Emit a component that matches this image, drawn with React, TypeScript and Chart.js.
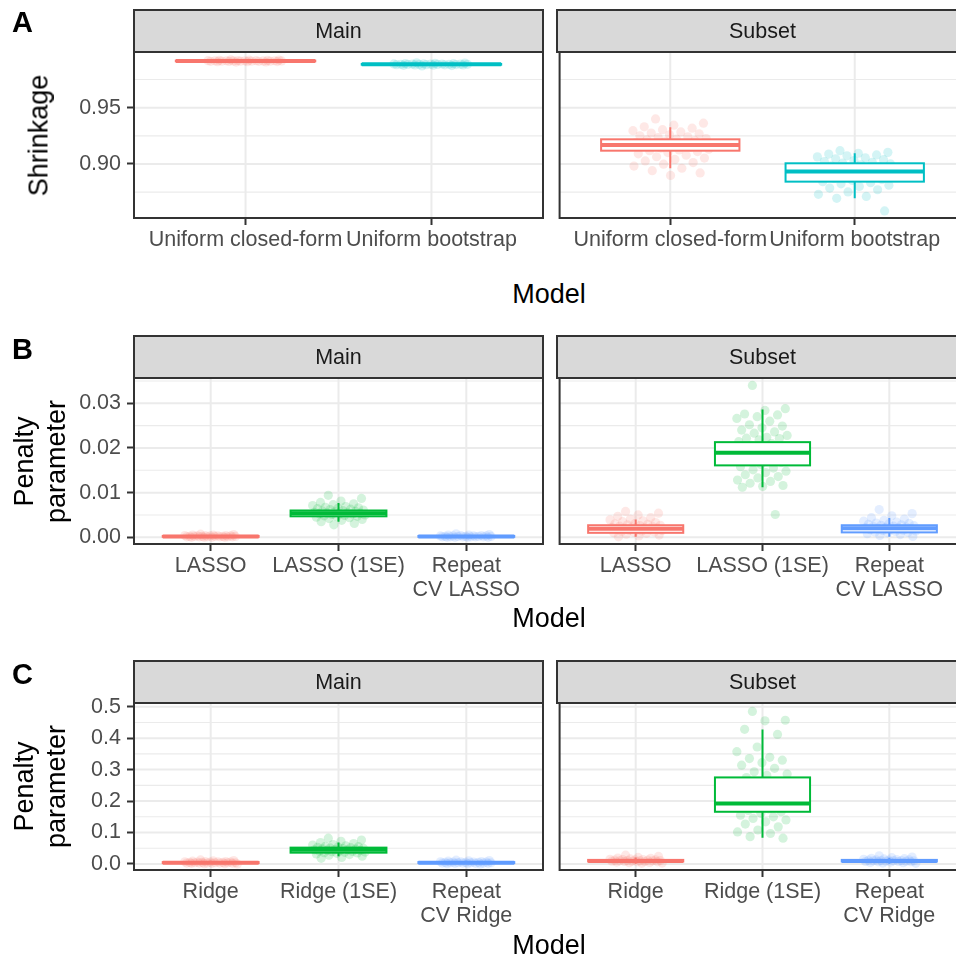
import React, { useEffect, useRef } from 'react';
import { Chart, registerables } from 'chart.js';
Chart.register(...registerables);

const FONT = "'Liberation Sans', Arial, Helvetica, sans-serif";

// ---------- categories ----------
const CATS_A: (string | string[])[] = ['Uniform closed-form', 'Uniform bootstrap'];
const CATS_B: (string | string[])[] = ['LASSO', 'LASSO (1SE)', ['Repeat', 'CV LASSO']];
const CATS_C: (string | string[])[] = ['Ridge', 'Ridge (1SE)', ['Repeat', 'CV Ridge']];
const COLORS_2 = ['#F8766D', '#00BFC4'];
const COLORS_3 = ['#F8766D', '#00BA38', '#619CFF'];

// ---------- y ticks ----------
const TICKS_A = [0.9, 0.95];
const TICKS_B = [0, 0.01, 0.02, 0.03];
const TICKS_C = [0, 0.1, 0.2, 0.3, 0.4, 0.5];

// ---------- A: Shrinkage ----------
const A_MAIN_CF = [0.9925, 0.9923, 0.9922, 0.9921, 0.992, 0.9919, 0.9918, 0.9918, 0.9917, 0.9917, 0.9916, 0.9916, 0.9915, 0.9915, 0.9915, 0.9914, 0.9914, 0.9913, 0.9913, 0.9912, 0.9912, 0.9911, 0.991, 0.9909, 0.9908, 0.9906, 0.9905];
const A_MAIN_BS = [0.9899, 0.9896, 0.9894, 0.9892, 0.9891, 0.989, 0.9889, 0.9888, 0.9888, 0.9887, 0.9887, 0.9886, 0.9886, 0.9885, 0.9885, 0.9884, 0.9884, 0.9883, 0.9882, 0.9882, 0.9881, 0.988, 0.9879, 0.9878, 0.9876, 0.9874, 0.9871];
const A_SUB_CF = [0.94, 0.9362, 0.9345, 0.933, 0.9318, 0.9305, 0.9296, 0.9285, 0.9275, 0.9268, 0.9259, 0.925, 0.9242, 0.9235, 0.9226, 0.922, 0.9214, 0.9207, 0.9199, 0.919, 0.9183, 0.9176, 0.917, 0.9163, 0.9155, 0.9148, 0.914, 0.9131, 0.9124, 0.9118, 0.911, 0.9101, 0.909, 0.9078, 0.9064, 0.9052, 0.904, 0.9027, 0.9012, 0.8998, 0.8981, 0.8962, 0.894, 0.892, 0.8898];
const A_SUB_BS = [0.9118, 0.9103, 0.9095, 0.9088, 0.908, 0.9072, 0.9063, 0.9055, 0.9046, 0.9038, 0.903, 0.9022, 0.9015, 0.9007, 0.9, 0.8992, 0.8983, 0.8975, 0.8966, 0.8958, 0.895, 0.8941, 0.8933, 0.8925, 0.8916, 0.8908, 0.8899, 0.889, 0.888, 0.8871, 0.8862, 0.8853, 0.8843, 0.8834, 0.8824, 0.8812, 0.88, 0.8786, 0.8771, 0.8752, 0.873, 0.8712, 0.8695, 0.8583];
// box stats: [lower whisker, q1, median, q3, upper whisker]
const A_MAIN_BOX = [[0.9906, 0.9912, 0.9915, 0.9918, 0.9924], [0.9876, 0.9882, 0.9885, 0.9888, 0.9895]];
const A_SUB_BOX = [[0.8962, 0.9118, 0.9169, 0.9219, 0.9326], [0.8695, 0.8843, 0.8932, 0.9006, 0.9095]];

// ---------- B: LASSO penalty ----------
const B_MAIN_L = [0.0007, 0.0006, 0.0005, 0.0005, 0.0004, 0.0004, 0.0004, 0.0003, 0.0003, 0.0003, 0.0003, 0.0002, 0.0002, 0.0002, 0.0002, 0.0002, 0.0002, 0.0001, 0.0001, 0.0001, 0.0001, 0.0001, 0.0001, 0.0, 0.0, 0.0, 0.0];
const B_MAIN_1SE = [0.0094, 0.0087, 0.0081, 0.0078, 0.0075, 0.0073, 0.0071, 0.0069, 0.0067, 0.0066, 0.0065, 0.0064, 0.0063, 0.0062, 0.0061, 0.006, 0.0059, 0.0058, 0.0057, 0.0056, 0.0055, 0.0055, 0.0054, 0.0053, 0.0053, 0.0052, 0.0051, 0.005, 0.0049, 0.0048, 0.0047, 0.0046, 0.0045, 0.0044, 0.0042, 0.004, 0.0038, 0.0035, 0.0031, 0.0028];
const B_MAIN_R = [0.0008, 0.0006, 0.0005, 0.0005, 0.0004, 0.0004, 0.0003, 0.0003, 0.0003, 0.0003, 0.0002, 0.0002, 0.0002, 0.0002, 0.0002, 0.0001, 0.0001, 0.0001, 0.0001, 0.0001, 0.0001, 0.0, 0.0, 0.0, 0.0];
const B_SUB_L = [0.0058, 0.0054, 0.005, 0.0047, 0.0044, 0.0041, 0.0039, 0.0037, 0.0035, 0.0033, 0.0031, 0.003, 0.0029, 0.0028, 0.0027, 0.0026, 0.0025, 0.0024, 0.0023, 0.0022, 0.0021, 0.002, 0.002, 0.0019, 0.0018, 0.0017, 0.0016, 0.0015, 0.0014, 0.0013, 0.0012, 0.0011, 0.001, 0.0009, 0.0007, 0.0005, 0.0003, 0.0001];
const B_SUB_1SE = [0.034, 0.0288, 0.0284, 0.0276, 0.0274, 0.027, 0.0266, 0.026, 0.0252, 0.0249, 0.0245, 0.024, 0.0236, 0.0233, 0.0228, 0.0224, 0.0222, 0.0221, 0.0218, 0.0214, 0.021, 0.0206, 0.02, 0.0195, 0.019, 0.0188, 0.0184, 0.018, 0.0176, 0.0172, 0.0168, 0.0163, 0.0158, 0.0155, 0.0151, 0.0148, 0.0145, 0.014, 0.0136, 0.0133, 0.0128, 0.0125, 0.0121, 0.0116, 0.0114, 0.0112, 0.0051];
const B_SUB_R = [0.0062, 0.0053, 0.0048, 0.0044, 0.0041, 0.0038, 0.0036, 0.0034, 0.0032, 0.0031, 0.003, 0.0029, 0.0028, 0.0027, 0.0026, 0.0025, 0.0024, 0.0023, 0.0022, 0.0021, 0.0021, 0.002, 0.0019, 0.0018, 0.0017, 0.0016, 0.0015, 0.0014, 0.0013, 0.0012, 0.0011, 0.001, 0.0008, 0.0006, 0.0004, 0.0002];
const B_MAIN_BOX = [[0.0, 0.0001, 0.0002, 0.0003, 0.0005], [0.0035, 0.0047, 0.0054, 0.006, 0.0077], [0.0, 0.0001, 0.0002, 0.0003, 0.0005]];
const B_SUB_BOX = [[0.0001, 0.001, 0.0019, 0.0027, 0.004], [0.0112, 0.0161, 0.0189, 0.0213, 0.0286], [0.0001, 0.0011, 0.002, 0.0027, 0.0043]];

// ---------- C: Ridge penalty ----------
const C_MAIN_R = [0.013, 0.011, 0.01, 0.009, 0.008, 0.008, 0.007, 0.007, 0.006, 0.006, 0.006, 0.005, 0.005, 0.005, 0.004, 0.004, 0.004, 0.004, 0.003, 0.003, 0.003, 0.003, 0.002, 0.002, 0.002, 0.001, 0.001, 0.0];
const C_MAIN_1SE = [0.082, 0.076, 0.072, 0.068, 0.065, 0.062, 0.06, 0.058, 0.056, 0.055, 0.054, 0.053, 0.052, 0.051, 0.05, 0.049, 0.048, 0.047, 0.046, 0.045, 0.045, 0.044, 0.043, 0.042, 0.041, 0.04, 0.039, 0.038, 0.037, 0.036, 0.035, 0.034, 0.032, 0.03, 0.028, 0.025, 0.021, 0.018];
const C_MAIN_RCV = [0.012, 0.011, 0.01, 0.009, 0.008, 0.007, 0.007, 0.006, 0.006, 0.006, 0.005, 0.005, 0.005, 0.004, 0.004, 0.004, 0.004, 0.003, 0.003, 0.003, 0.002, 0.002, 0.002, 0.001, 0.001, 0.0];
const C_SUB_R = [0.028, 0.024, 0.021, 0.019, 0.018, 0.016, 0.015, 0.014, 0.014, 0.013, 0.013, 0.012, 0.012, 0.011, 0.011, 0.01, 0.01, 0.01, 0.009, 0.009, 0.008, 0.008, 0.007, 0.007, 0.006, 0.005, 0.004, 0.003, 0.002];
const C_SUB_1SE = [0.485, 0.457, 0.455, 0.428, 0.412, 0.372, 0.357, 0.339, 0.335, 0.33, 0.322, 0.314, 0.304, 0.293, 0.286, 0.282, 0.275, 0.262, 0.248, 0.232, 0.218, 0.205, 0.198, 0.194, 0.192, 0.19, 0.186, 0.18, 0.175, 0.17, 0.166, 0.161, 0.155, 0.15, 0.145, 0.14, 0.134, 0.127, 0.118, 0.108, 0.102, 0.097, 0.087, 0.082];
const C_SUB_RCV = [0.026, 0.022, 0.02, 0.018, 0.017, 0.016, 0.015, 0.014, 0.013, 0.013, 0.012, 0.012, 0.011, 0.011, 0.01, 0.01, 0.01, 0.009, 0.009, 0.008, 0.008, 0.007, 0.007, 0.006, 0.005, 0.004, 0.003, 0.002];
const C_MAIN_BOX = [[0.0, 0.003, 0.004, 0.006, 0.01], [0.025, 0.036, 0.045, 0.052, 0.068], [0.0, 0.003, 0.004, 0.006, 0.01]];
const C_SUB_BOX = [[0.001, 0.008, 0.0098, 0.013, 0.021], [0.0835, 0.166, 0.1927, 0.2752, 0.4276], [0.001, 0.008, 0.0098, 0.013, 0.02]];

type RowDef = {
  letter: string;
  cats: (string | string[])[];
  colors: string[];
  yMin: number;
  yMax: number;
  yTicks: number[];
  digits: number;
  main: number[][];
  mainBox: number[][];
  sub: number[][];
  subBox: number[][];
  stripTop: number;
  panelTop: number;
  panelBottom: number;
  xAxisH: number;
  yTitle: string[];
  modelBaseline: number;
  letterCapTop: number;
};

const ROWS: RowDef[] = [
  {
    letter: 'A', cats: CATS_A, colors: COLORS_2, yMin: 0.852, yMax: 0.99947, yTicks: TICKS_A, digits: 2,
    main: [A_MAIN_CF, A_MAIN_BS], mainBox: A_MAIN_BOX, sub: [A_SUB_CF, A_SUB_BS], subBox: A_SUB_BOX,
    stripTop: 10, panelTop: 52, panelBottom: 218, xAxisH: 40, yTitle: ['Shrinkage'], modelBaseline: 304, letterCapTop: 11.7,
  },
  {
    letter: 'B', cats: CATS_B, colors: COLORS_3, yMin: -0.0015, yMax: 0.03566, yTicks: TICKS_B, digits: 2,
    main: [B_MAIN_L, B_MAIN_1SE, B_MAIN_R], mainBox: B_MAIN_BOX, sub: [B_SUB_L, B_SUB_1SE, B_SUB_R], subBox: B_SUB_BOX,
    stripTop: 336, panelTop: 378, panelBottom: 544, xAxisH: 64, yTitle: ['Penalty', 'parameter'], modelBaseline: 628, letterCapTop: 338.3,
  },
  {
    letter: 'C', cats: CATS_C, colors: COLORS_3, yMin: -0.0191, yMax: 0.5118, yTicks: TICKS_C, digits: 1,
    main: [C_MAIN_R, C_MAIN_1SE, C_MAIN_RCV], mainBox: C_MAIN_BOX, sub: [C_SUB_R, C_SUB_1SE, C_SUB_RCV], subBox: C_SUB_BOX,
    stripTop: 661, panelTop: 703, panelBottom: 870, xAxisH: 64, yTitle: ['Penalty', 'parameter'], modelBaseline: 955, letterCapTop: 663.3,
  },
];

const LEFT_PANEL = { l: 134, r: 543 };
const RIGHT_PANEL = { l: 557, r: 968 };
const PAD_TOP = 14;

function hexA(hex: string, a: number) {
  const n = parseInt(hex.slice(1), 16);
  return `rgba(${(n >> 16) & 255},${(n >> 8) & 255},${n & 255},${a})`;
}
// deterministic horizontal jitter (visual spread only)
const jit = (i: number) => ((((i * 0.6180339887 + 0.31) % 1) - 0.5) * 0.42);

function Panel({ row, side }: { row: RowDef; side: 'L' | 'R' }) {
  const ref = useRef<HTMLCanvasElement>(null);
  const isL = side === 'L';
  const P = isL ? LEFT_PANEL : RIGHT_PANEL;
  const canvasLeft = isL ? 0 : P.l - 2;
  const canvasW = isL ? P.r + 5 : P.r - P.l + 4;
  const panelH = row.panelBottom - row.panelTop;
  const canvasH = PAD_TOP + panelH + row.xAxisH;

  useEffect(() => {
    const groups = isL ? row.main : row.sub;
    const boxes = isL ? row.mainBox : row.subBox;
    const n = row.cats.length;
    const step = row.yTicks[1] - row.yTicks[0];
    const minor: number[] = [];
    for (let k = -1; k < row.yTicks.length; k++) {
      const v = row.yTicks[0] + (k + 0.5) * step;
      if (v > row.yMin && v < row.yMax) minor.push(v);
    }
    const ggPanel = {
      id: 'ggPanel',
      beforeDatasetsDraw(chart: any) {
        const { ctx, chartArea: a, scales } = chart;
        const x = scales.x, y = scales.y;
        ctx.save();
        ctx.fillStyle = '#FFFFFF';
        ctx.fillRect(a.left, a.top, a.right - a.left, a.bottom - a.top);
        ctx.strokeStyle = '#EBEBEB';
        ctx.lineWidth = 1.1;
        for (const v of minor) {
          const p = y.getPixelForValue(v);
          ctx.beginPath(); ctx.moveTo(a.left, p); ctx.lineTo(a.right, p); ctx.stroke();
        }
        ctx.lineWidth = 2;
        for (const v of row.yTicks) {
          const p = y.getPixelForValue(v);
          ctx.beginPath(); ctx.moveTo(a.left, p); ctx.lineTo(a.right, p); ctx.stroke();
        }
        for (let i = 1; i <= n; i++) {
          const p = x.getPixelForValue(i);
          ctx.beginPath(); ctx.moveTo(p, a.top); ctx.lineTo(p, a.bottom); ctx.stroke();
        }
        ctx.restore();
      },
      afterDatasetsDraw(chart: any) {
        const { ctx, chartArea: a, scales } = chart;
        const x = scales.x, y = scales.y;
        ctx.save();
        ctx.beginPath();
        ctx.rect(a.left, a.top, a.right - a.left, a.bottom - a.top);
        ctx.clip();
        boxes.forEach((b, g) => {
          const c = row.colors[g];
          const xl = x.getPixelForValue(g + 1 - 0.375);
          const xr = x.getPixelForValue(g + 1 + 0.375);
          const xc = x.getPixelForValue(g + 1);
          const [lo, q1, med, q3, hi] = b.map((v) => y.getPixelForValue(v));
          ctx.strokeStyle = c;
          ctx.lineWidth = 2;
          ctx.beginPath();
          ctx.moveTo(xc, hi); ctx.lineTo(xc, q3);
          ctx.moveTo(xc, q1); ctx.lineTo(xc, lo);
          ctx.stroke();
          ctx.fillStyle = '#FFFFFF';
          ctx.fillRect(xl, q3, xr - xl, q1 - q3);
          ctx.strokeRect(xl, q3, xr - xl, q1 - q3);
          ctx.lineWidth = 4;
          ctx.beginPath(); ctx.moveTo(xl, med); ctx.lineTo(xr, med); ctx.stroke();
        });
        ctx.restore();
        ctx.save();
        ctx.strokeStyle = '#333333';
        ctx.lineWidth = 2;
        ctx.strokeRect(a.left, a.top, a.right - a.left, a.bottom - a.top);
        ctx.restore();
      },
    };

    const datasets = groups.map((vals, g) => ({
      data: vals.map((v, i) => ({ x: g + 1 + jit(i), y: v })),
      backgroundColor: hexA(row.colors[g], 0.17),
      borderWidth: 0,
      pointRadius: 4.6,
      pointHoverRadius: 4.6,
    }));

    const tickFont = { family: FONT, size: 21.5, lineHeight: 1.1 };
    const chart = new Chart(ref.current as HTMLCanvasElement, {
      type: 'scatter',
      data: { datasets },
      options: {
        animation: false,
        responsive: false,
        maintainAspectRatio: false,
        devicePixelRatio: 1,
        events: [],
        layout: { padding: { top: PAD_TOP, left: isL ? 0 : 2, right: isL ? 5 : 2, bottom: 0 } },
        plugins: { legend: { display: false }, tooltip: { enabled: false }, title: { display: false } },
        scales: {
          x: {
            type: 'linear',
            min: 0.4,
            max: n + 0.6,
            afterBuildTicks: (s: any) => { s.ticks = row.cats.map((_, i) => ({ value: i + 1 })); },
            afterFit: (s: any) => { s.height = row.xAxisH; s.paddingLeft = 0; s.paddingRight = 0; },
            ticks: {
              callback: (v: any) => row.cats[Math.round(v) - 1] as any,
              font: tickFont,
              color: '#4D4D4D',
              padding: 3.5,
              maxRotation: 0,
              minRotation: 0,
              autoSkip: false,
            },
            grid: { display: true, drawOnChartArea: false, drawTicks: true, tickLength: 7, tickWidth: 2, tickColor: '#333333' },
            border: { display: false },
          },
          y: {
            type: 'linear',
            display: isL,
            min: row.yMin,
            max: row.yMax,
            afterBuildTicks: (s: any) => { s.ticks = row.yTicks.map((v) => ({ value: v })); },
            afterFit: (s: any) => { s.width = isL ? P.l : 0; s.paddingTop = 0; s.paddingBottom = 0; },
            ticks: {
              callback: (v: any) => Number(v).toFixed(row.digits),
              font: tickFont,
              color: '#4D4D4D',
              padding: 6,
              autoSkip: false,
            },
            grid: { display: true, drawOnChartArea: false, drawTicks: true, tickLength: 7, tickWidth: 2, tickColor: '#333333' },
            border: { display: false },
          },
        },
      } as any,
      plugins: [ggPanel as any],
    });
    return () => chart.destroy();
  }, []);

  return (
    <canvas
      ref={ref}
      width={canvasW}
      height={canvasH}
      style={{ position: 'absolute', left: canvasLeft, top: row.panelTop - PAD_TOP, width: canvasW, height: canvasH }}
    />
  );
}

function Strip({ row, side, label }: { row: RowDef; side: 'L' | 'R'; label: string }) {
  const P = side === 'L' ? LEFT_PANEL : RIGHT_PANEL;
  const fs = 21.5;
  const center = (row.stripTop + row.panelTop) / 2;
  const baseline = center + 8.5;
  return (
    <>
      <div
        style={{
          position: 'absolute', left: P.l - 1, top: row.stripTop - 1, width: P.r - P.l + 2, height: row.panelTop - row.stripTop + 2,
          background: '#D9D9D9', border: '2px solid #333333', boxSizing: 'border-box',
        }}
      />
      <div
        style={{
          position: 'absolute', left: P.l, width: P.r - P.l, top: baseline - 0.8465 * fs, height: fs, lineHeight: `${fs}px`,
          fontSize: fs, fontFamily: FONT, color: '#1A1A1A', textAlign: 'center', whiteSpace: 'nowrap',
        }}
      >
        {label}
      </div>
    </>
  );
}

function RotText({ text, cx, cy, fs }: { text: string; cx: number; cy: number; fs: number }) {
  return (
    <div
      style={{
        position: 'absolute', left: cx - 150, top: cy - fs / 2, width: 300, height: fs, lineHeight: `${fs}px`,
        fontSize: fs, fontFamily: FONT, color: '#000000', textAlign: 'center', whiteSpace: 'nowrap',
        transform: 'rotate(-90deg)', transformOrigin: '50% 50%',
      }}
    >
      {text}
    </div>
  );
}

function RowView({ row }: { row: RowDef }) {
  const cy = (row.panelTop + row.panelBottom) / 2;
  const tfs = 27;
  const lfs = 29;
  return (
    <>
      <Panel row={row} side="L" />
      <Panel row={row} side="R" />
      <Strip row={row} side="L" label="Main" />
      <Strip row={row} side="R" label="Subset" />
      <div
        style={{
          position: 'absolute', left: 12, top: row.letterCapTop - 0.1305 * lfs, height: lfs, lineHeight: `${lfs}px`,
          fontSize: lfs, fontWeight: 'bold', fontFamily: FONT, color: '#000000',
        }}
      >
        {row.letter}
      </div>
      {row.yTitle.length === 1 ? (
        <RotText text={row.yTitle[0]} cx={39} cy={cy} fs={tfs} />
      ) : (
        <>
          <RotText text={row.yTitle[0]} cx={24} cy={cy} fs={tfs} />
          <RotText text={row.yTitle[1]} cx={56} cy={cy} fs={tfs} />
        </>
      )}
      <div
        style={{
          position: 'absolute', left: 549 - 150, width: 300, top: row.modelBaseline - 0.8465 * tfs, height: tfs, lineHeight: `${tfs}px`,
          fontSize: tfs, fontFamily: FONT, color: '#000000', textAlign: 'center',
        }}
      >
        Model
      </div>
    </>
  );
}

export default function App() {
  return (
    <div style={{ position: 'absolute', left: 0, top: 0, width: 956, height: 958, overflow: 'hidden', background: '#FFFFFF' }}>
      {ROWS.map((r) => (
        <RowView key={r.letter} row={r} />
      ))}
    </div>
  );
}
